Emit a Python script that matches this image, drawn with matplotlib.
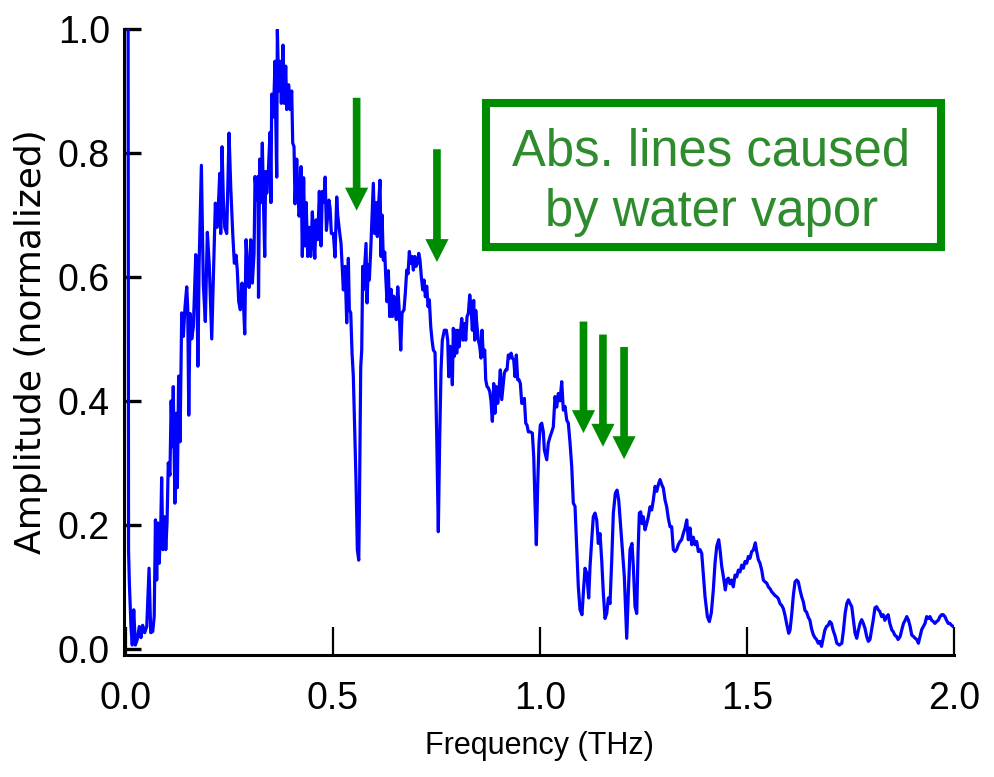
import matplotlib
matplotlib.use('Agg')
import matplotlib.pyplot as plt
from matplotlib.patches import Rectangle, FancyArrow

freq = [0.005, 0.0055, 0.006, 0.008, 0.012, 0.015, 0.0186, 0.0225, 0.027, 0.032,
        0.036, 0.040, 0.045, 0.050, 0.0556, 0.0596, 0.0645, 0.068, 0.071, 0.074,
        0.077, 0.080, 0.084, 0.086, 0.089, 0.093, 0.096, 0.099, 0.102, 0.106,
        0.109, 0.112, 0.114, 0.118, 0.121, 0.124, 0.127, 0.1304, 0.1345, 0.1384,
        0.1425, 0.1466, 0.1490, 0.1515, 0.1546, 0.1587, 0.1626, 0.1684, 0.1710, 0.1735,
        0.1765, 0.1820, 0.1867, 0.1915, 0.1964, 0.2010, 0.2070, 0.2110, 0.2157, 0.2198,
        0.2240, 0.2263, 0.2287, 0.2319, 0.2350, 0.2384, 0.2432, 0.2488, 0.2529, 0.2577,
        0.2616, 0.2657, 0.2688, 0.2722, 0.2761, 0.2802, 0.2833, 0.2867, 0.2899, 0.2940,
        0.2971, 0.3012, 0.3051, 0.3092, 0.3116, 0.3157, 0.3188, 0.3200, 0.3228, 0.3254,
        0.3292, 0.3320, 0.3350, 0.3372, 0.3399, 0.3437, 0.3478, 0.3500, 0.3519, 0.3558,
        0.3599, 0.3615, 0.3640, 0.3655, 0.3688, 0.3720, 0.3751, 0.3792, 0.3824, 0.3857,
        0.3882, 0.3930, 0.3961, 0.4002, 0.4026, 0.4058, 0.4082, 0.4123, 0.4150, 0.4179,
        0.4200, 0.4227, 0.4258, 0.4290, 0.4320, 0.4350, 0.4389, 0.4420, 0.4461, 0.4500,
        0.4530, 0.4560, 0.4589, 0.4630, 0.4669, 0.4710, 0.4742, 0.4783, 0.4810, 0.4840,
        0.4872, 0.4900, 0.4930, 0.4959, 0.5007, 0.5048, 0.5089, 0.5113, 0.5152, 0.5193,
        0.5249, 0.5290, 0.5331, 0.5370, 0.5394, 0.5428, 0.5459, 0.5490, 0.5556, 0.5587,
        0.5621, 0.5635, 0.5669, 0.5693, 0.5717, 0.5732, 0.5766, 0.5797, 0.5821, 0.5853,
        0.5877, 0.5911, 0.5942, 0.5973, 0.6007, 0.6039, 0.6070, 0.6104, 0.6135, 0.6159,
        0.6184, 0.6215, 0.6249, 0.6273, 0.6304, 0.6336, 0.6370, 0.6401, 0.6432, 0.6466,
        0.6498, 0.6529, 0.6563, 0.6594, 0.6635, 0.6667, 0.6715, 0.6746, 0.6780, 0.6812,
        0.6843, 0.6877, 0.6908, 0.6940, 0.6973, 0.7005, 0.7036, 0.7070, 0.7101, 0.7133,
        0.7167, 0.7198, 0.7230, 0.7263, 0.7295, 0.7326, 0.7360, 0.7391, 0.7423, 0.7464,
        0.7505, 0.7543, 0.7577, 0.7609, 0.7640, 0.7688, 0.7737, 0.7770, 0.7795, 0.7826,
        0.7850, 0.7882, 0.7906, 0.7930, 0.7964, 0.7988, 0.8012, 0.8043, 0.8075, 0.8109,
        0.8140, 0.8172, 0.8205, 0.8237, 0.8268, 0.8302, 0.8333, 0.8365, 0.8398, 0.8422,
        0.8447, 0.8478, 0.8510, 0.8543, 0.8575, 0.8599, 0.8630, 0.8664, 0.8688, 0.8720,
        0.8751, 0.8785, 0.8816, 0.8848, 0.8882, 0.8913, 0.8945, 0.8978, 0.9010, 0.9041,
        0.9075, 0.9106, 0.9138, 0.9172, 0.9203, 0.9234, 0.9268, 0.9300, 0.9331, 0.9365,
        0.9396, 0.9428, 0.9461, 0.9493, 0.9525, 0.9558, 0.9590, 0.9621, 0.9655, 0.9686,
        0.9718, 0.9766, 0.9814, 0.9848, 0.9879, 0.9911, 0.9945, 0.9976, 1.0007, 1.0041,
        1.0080, 1.0104, 1.0162, 1.0200, 1.0242, 1.0283, 1.0321, 1.0362, 1.0403, 1.0442,
        1.0483, 1.0524, 1.0563, 1.0604, 1.0645, 1.0684, 1.0725, 1.0766, 1.0804, 1.0845,
        1.0886, 1.0925, 1.0966, 1.1014, 1.1046, 1.1087, 1.1128, 1.1176, 1.1208, 1.1249,
        1.1287, 1.1328, 1.1369, 1.1408, 1.1449, 1.1490, 1.1529, 1.1570, 1.1611, 1.1650,
        1.1691, 1.1732, 1.1771, 1.1819, 1.1860, 1.1901, 1.1949, 1.1998, 1.2036, 1.2094,
        1.2133, 1.2174, 1.2222, 1.2254, 1.2295, 1.2336, 1.2367, 1.2399, 1.2432, 1.2464,
        1.2495, 1.2536, 1.2577, 1.2616, 1.2657, 1.2698, 1.2737, 1.2778, 1.2819, 1.2858,
        1.2899, 1.2940, 1.2979, 1.3020, 1.3060, 1.3100, 1.3140, 1.3180, 1.3220, 1.3260,
        1.3300, 1.3340, 1.3380, 1.3420, 1.3460, 1.3500, 1.3544, 1.3582, 1.3623, 1.3664,
        1.3703, 1.3744, 1.3785, 1.3824, 1.3865, 1.3906, 1.3945, 1.3986, 1.4042, 1.4090,
        1.4138, 1.4186, 1.4227, 1.4268, 1.4316, 1.4348, 1.4389, 1.4428, 1.4476, 1.4510,
        1.4548, 1.4589, 1.4630, 1.4669, 1.4710, 1.4751, 1.4790, 1.4831, 1.4872, 1.4911,
        1.4952, 1.4993, 1.5032, 1.5072, 1.5113, 1.5152, 1.5200, 1.5234, 1.5273, 1.5314,
        1.5355, 1.5394, 1.5435, 1.5476, 1.5515, 1.5556, 1.5597, 1.5635, 1.5676, 1.5717,
        1.5756, 1.5797, 1.5838, 1.5877, 1.5918, 1.5959, 1.6007, 1.6039, 1.6080, 1.6119,
        1.6160, 1.6200, 1.6240, 1.6280, 1.6320, 1.6360, 1.6400, 1.6440, 1.6480, 1.6520,
        1.6560, 1.6600, 1.6640, 1.6680, 1.6720, 1.6760, 1.6800, 1.6840, 1.6880, 1.6920,
        1.6960, 1.7000, 1.7040, 1.7080, 1.7130, 1.7170, 1.7230, 1.7290, 1.7330, 1.7370,
        1.7410, 1.7450, 1.7490, 1.7530, 1.7570, 1.7610, 1.7650, 1.7690, 1.7730, 1.7770,
        1.7810, 1.7850, 1.7890, 1.7930, 1.7970, 1.8010, 1.8050, 1.8090, 1.8130, 1.8170,
        1.8210, 1.8250, 1.8290, 1.8330, 1.8370, 1.8410, 1.8450, 1.8500, 1.8530, 1.8570,
        1.8610, 1.8650, 1.8700, 1.8740, 1.8780, 1.8820, 1.8860, 1.8900, 1.8940, 1.8980,
        1.9020, 1.9060, 1.9100, 1.9140, 1.9180, 1.9220, 1.9260, 1.9300, 1.9340, 1.9380,
        1.9420, 1.9460, 1.9500, 1.9540, 1.9580, 1.9620, 1.9660, 1.9700, 1.9740, 1.9780,
        1.9820, 1.9860, 1.9900, 1.9940, 1.9980]

amp = [1.0, 0.55, 0.16, 0.106, 0.035, 0.006, 0.063, 0.006, 0.015, 0.036,
       0.018, 0.038, 0.026, 0.036, 0.130, 0.026, 0.028, 0.052, 0.208, 0.111,
       0.203, 0.138, 0.203, 0.276, 0.16, 0.213, 0.16, 0.203, 0.30, 0.28,
       0.40, 0.326, 0.423, 0.235, 0.38, 0.26, 0.44, 0.334, 0.542, 0.504,
       0.552, 0.584, 0.55, 0.377, 0.541, 0.50, 0.52, 0.636, 0.60, 0.456,
       0.62, 0.78, 0.587, 0.528, 0.672, 0.62, 0.50, 0.60, 0.719, 0.68,
       0.73, 0.767, 0.67, 0.81, 0.727, 0.68, 0.67, 0.832, 0.745, 0.67,
       0.622, 0.635, 0.61, 0.56, 0.547, 0.59, 0.563, 0.508, 0.66, 0.605,
       0.583, 0.66, 0.59, 0.638, 0.762, 0.724, 0.762, 0.567, 0.79, 0.72,
       0.816, 0.72, 0.633, 0.77, 0.735, 0.77, 0.833, 0.72, 0.895, 0.858,
       0.948, 0.86, 0.761, 0.999, 0.90, 0.948, 0.88, 0.974, 0.88, 0.94,
       0.87, 0.91, 0.87, 0.90, 0.816, 0.81, 0.718, 0.79, 0.74, 0.698,
       0.71, 0.778, 0.633, 0.76, 0.65, 0.72, 0.633, 0.68, 0.633, 0.705,
       0.66, 0.63, 0.692, 0.66, 0.738, 0.65, 0.738, 0.72, 0.761, 0.675,
       0.70, 0.724, 0.71, 0.67, 0.67, 0.632, 0.729, 0.70, 0.676, 0.654,
       0.579, 0.617, 0.526, 0.63, 0.547, 0.542, 0.477, 0.44, 0.268, 0.16,
       0.143, 0.213, 0.455, 0.482, 0.617, 0.579, 0.617, 0.654, 0.558, 0.62,
       0.595, 0.644, 0.697, 0.751, 0.67, 0.72, 0.665, 0.72, 0.756, 0.633,
       0.70, 0.627, 0.64, 0.60, 0.56, 0.61, 0.536, 0.58, 0.536, 0.569,
       0.547, 0.531, 0.584, 0.552, 0.482, 0.542, 0.547, 0.574, 0.611, 0.605,
       0.641, 0.622, 0.633, 0.611, 0.633, 0.617, 0.622, 0.638, 0.627, 0.60,
       0.579, 0.595, 0.568, 0.585, 0.552, 0.563, 0.52, 0.498, 0.482, 0.478,
       0.342, 0.189, 0.342, 0.45, 0.498, 0.514, 0.514, 0.498, 0.439, 0.488,
       0.482, 0.426, 0.517, 0.472, 0.514, 0.477, 0.514, 0.487, 0.508, 0.533,
       0.498, 0.525, 0.498, 0.536, 0.541, 0.571, 0.552, 0.514, 0.562, 0.498,
       0.546, 0.52, 0.498, 0.488, 0.469, 0.514, 0.472, 0.482, 0.434, 0.423,
       0.421, 0.415, 0.40, 0.367, 0.428, 0.38, 0.423, 0.396, 0.418, 0.45,
       0.402, 0.423, 0.445, 0.45, 0.45, 0.474, 0.469, 0.477, 0.469, 0.466,
       0.439, 0.474, 0.434, 0.434, 0.428, 0.396, 0.396, 0.404, 0.364, 0.361,
       0.35, 0.35, 0.348, 0.31, 0.235, 0.168, 0.268, 0.332, 0.361, 0.364,
       0.35, 0.321, 0.305, 0.332, 0.342, 0.35, 0.358, 0.407, 0.39, 0.412,
       0.40, 0.431, 0.385, 0.391, 0.369, 0.364, 0.332, 0.294, 0.235, 0.23,
       0.165, 0.10, 0.063, 0.055, 0.09, 0.13, 0.122, 0.082, 0.133, 0.176,
       0.213, 0.219, 0.208, 0.17, 0.186, 0.143, 0.09, 0.049, 0.057, 0.082,
       0.073, 0.143, 0.219, 0.251, 0.256, 0.24, 0.197, 0.154, 0.117, 0.017,
       0.09, 0.16, 0.17, 0.133, 0.068, 0.057, 0.154, 0.219, 0.221, 0.202,
       0.213, 0.192, 0.202, 0.213, 0.229, 0.224, 0.24, 0.262, 0.254, 0.265,
       0.273, 0.265, 0.259, 0.24, 0.229, 0.21, 0.197, 0.197, 0.16, 0.157,
       0.16, 0.168, 0.173, 0.176, 0.186, 0.194, 0.208, 0.176, 0.195, 0.168,
       0.18, 0.168, 0.173, 0.157, 0.16, 0.154, 0.119, 0.084, 0.052, 0.044,
       0.058, 0.095, 0.138, 0.165, 0.176, 0.16, 0.133, 0.117, 0.095, 0.111,
       0.114, 0.105, 0.111, 0.10, 0.119, 0.116, 0.127, 0.124, 0.135, 0.13,
       0.141, 0.138, 0.149, 0.146, 0.157, 0.159, 0.171, 0.157, 0.144, 0.138,
       0.127, 0.111, 0.108, 0.106, 0.10, 0.097, 0.092, 0.089, 0.086, 0.084,
       0.081, 0.073, 0.07, 0.065, 0.054, 0.04, 0.025, 0.03, 0.056, 0.086,
       0.108, 0.111, 0.108, 0.095, 0.084, 0.076, 0.062, 0.059, 0.051, 0.046,
       0.032, 0.023, 0.018, 0.015, 0.009, 0.012, 0.004, 0.017, 0.03, 0.036,
       0.038, 0.044, 0.041, 0.03, 0.02, 0.009, 0.006, 0.009, 0.03, 0.057,
       0.073, 0.079, 0.073, 0.068, 0.046, 0.025, 0.017, 0.03, 0.041, 0.047,
       0.041, 0.033, 0.02, 0.012, 0.015, 0.031, 0.047, 0.066, 0.068, 0.063,
       0.06, 0.052, 0.055, 0.046, 0.052, 0.055, 0.041, 0.03, 0.028, 0.022,
       0.02, 0.015, 0.02, 0.031, 0.041, 0.046, 0.052, 0.046, 0.036, 0.022,
       0.02, 0.017, 0.015, 0.009, 0.02, 0.031, 0.036, 0.041, 0.052, 0.049,
       0.052, 0.046, 0.044, 0.041, 0.044, 0.046, 0.052, 0.055, 0.055, 0.052,
       0.046, 0.041, 0.041, 0.038, 0.036]

arrow_freq = [0.557, 0.751, 1.105, 1.152, 1.203]
arrow_top = [0.889, 0.806, 0.528, 0.507, 0.487]
arrow_tip = [0.707, 0.624, 0.348, 0.326, 0.306]

xticks = [0.0, 0.5, 1.0, 1.5, 2.0]
xticklabels = ['0.0', '0.5', '1.0', '1.5', '2.0']
yticks = [0.0, 0.2, 0.4, 0.6, 0.8, 1.0]
yticklabels = ['0.0', '0.2', '0.4', '0.6', '0.8', '1.0']
box_lines = ['Abs. lines caused', 'by water vapor']

sans = ['Liberation Sans', 'DejaVu Sans']

fig = plt.figure(figsize=(9.95, 7.77), dpi=100)
ax = fig.add_axes([0.1246, 0.157, 0.8342, 0.8057])

ax.plot(freq, amp, color='#0000ff', lw=2.3, solid_joinstyle='round')

for xf, yt, yb in zip(arrow_freq, arrow_top, arrow_tip):
    ax.add_patch(FancyArrow(xf, yt, 0, yb - yt, width=0.0185, head_width=0.056,
                            head_length=0.037, length_includes_head=True,
                            color='#008c00', lw=0))

ax.set_xlim(-0.005, 2.0)
ax.set_ylim(-0.01, 1.0)
for s in ['top', 'right']:
    ax.spines[s].set_visible(False)
for s in ['left', 'bottom']:
    ax.spines[s].set_linewidth(2.2)
    ax.spines[s].set_color('black')

ax.set_xticks(xticks)
ax.set_xticklabels(xticklabels, family=sans)
ax.set_yticks(yticks)
ax.set_yticklabels(yticklabels, family=sans)
ax.tick_params(axis='y', direction='in', length=12, width=2.4, pad=10, labelsize=27)
ax.tick_params(axis='x', direction='in', length=20, width=1.6, pad=19, labelsize=27)

ax.set_xlabel('Frequency (THz)', fontsize=22, family=sans)
ax.xaxis.set_label_coords(0.5, -0.122)
ax.set_ylabel('Amplitude (normalized)', fontsize=26, family=['DejaVu Sans'])
ax.yaxis.label.set_verticalalignment('center')
ax.yaxis.set_label_coords(-0.112, 0.5)

fig.add_artist(Rectangle((0.4884, 0.6821), 0.4573, 0.1853, transform=fig.transFigure,
                         fill=False, ec='#008c00', lw=5.8))
fig.text(0.715, 0.7876, box_lines[0], ha='center', va='baseline', fontsize=36.5,
         color='#2e8b2e', family=sans)
fig.text(0.715, 0.7091, box_lines[1], ha='center', va='baseline', fontsize=36.5,
         color='#2e8b2e', family=sans)

fig.savefig('out.png', dpi=100)
